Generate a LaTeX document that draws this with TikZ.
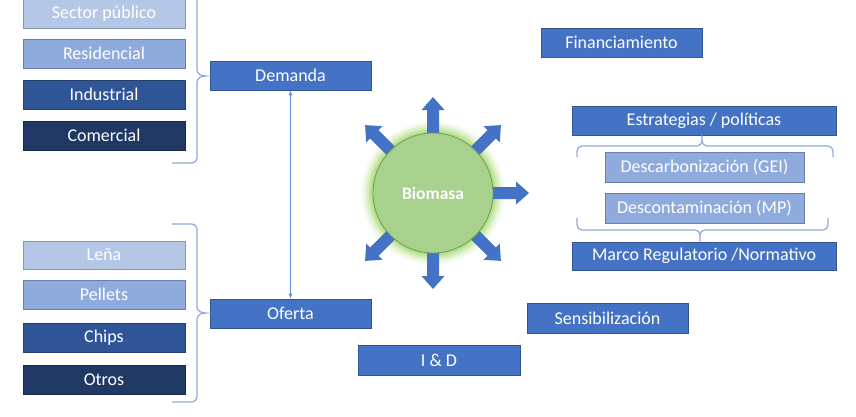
\documentclass[tikz,border=0pt]{standalone}
\usepackage{fontspec}
\setmainfont{Carlito}
\usetikzlibrary{arrows.meta}
\definecolor{mblue}{HTML}{4472C4}
\definecolor{lblueA}{HTML}{B4C7E7}
\definecolor{lblueB}{HTML}{8FAADC}
\definecolor{dblueA}{HTML}{2F5597}
\definecolor{dblueB}{HTML}{1F3864}
\definecolor{bracecol}{HTML}{8FAADC}
\definecolor{bioin}{HTML}{A9D18E}
\definecolor{bioedge}{HTML}{6E9E55}
\definecolor{glow}{HTML}{92D050}
\begin{document}
\begin{tikzpicture}[x=1pt,y=-1pt,
  box/.style={rectangle, draw=#1!75!black, line width=0.6pt, fill=#1, text=white,
    inner sep=0pt, minimum height=29pt, minimum width=161pt,
    font=\fontsize{18}{21}\selectfont},
  bracket/.style={draw=bracecol, line width=1.2pt},
  link/.style={draw=mblue!80, line width=0.8pt, {Latex[length=5pt,width=4pt]}-{Latex[length=5pt,width=4pt]}}
  ]
\useasboundingbox (0,0) rectangle (856,416);
% left column (demand)
\node[box=lblueA, minimum width=162pt] (sp) at (104,14) {Sector público};
\node[box=lblueB, minimum width=162pt] (res) at (104,53.5) {Residencial};
\node[box=dblueA, minimum width=162pt] (ind) at (104,94.5) {Industrial};
\node[box=dblueB, minimum width=162pt] (com) at (104,135.5) {Comercial};
\node[box=mblue] (dem) at (290.5,75.5) {Demanda};
% left column (supply)
\node[box=lblueA, minimum width=162pt, minimum height=28pt] (lena) at (104,255) {Leña};
\node[box=lblueB, minimum width=162pt] (pel) at (104,294.5) {Pellets};
\node[box=dblueA, minimum width=162pt] (chips) at (104,337.5) {Chips};
\node[box=dblueB, minimum width=162pt] (otros) at (104,379.5) {Otros};
\node[box=mblue] (of) at (290.5,313.5) {Oferta};
% braces
\draw[bracket] (172,-8) -- (192,-8) to[out=0,in=90] (197,-3) -- (197,70)
  to[out=-90,in=180] (206,76) to[out=180,in=90] (197,82) -- (197,158)
  to[out=-90,in=0] (192,163) -- (172,163);
\draw[bracket] (172,224) -- (192,224) to[out=0,in=90] (197,229) -- (197,307)
  to[out=-90,in=180] (206,313) to[out=180,in=90] (197,319) -- (197,397)
  to[out=-90,in=0] (192,402) -- (172,402);
\draw[link] (dem) -- (of);
% right side
\node[box=mblue] (fin) at (621.5,42.5) {Financiamiento};
\node[box=mblue, minimum width=264pt] (est) at (704,120.5) {Estrategias / políticas};
\node[box=lblueB, minimum width=199pt, minimum height=30pt] (gei) at (704.5,167) {Descarbonización (GEI)};
\node[box=lblueB, minimum width=199pt, minimum height=30pt] (mp) at (704.5,208) {Descontaminación (MP)};
\node[box=mblue, minimum width=264pt, minimum height=28pt] (marco) at (704,256) {Marco Regulatorio /Normativo};
\draw[bracket] (577,157) -- (577,151) to[out=90,in=180] (582,146) -- (697,146)
  to[out=0,in=-90] (702,141) -- (est.south -| 702,0) (702,141) to[out=-90,in=180] (707,146)
  -- (828,146) to[out=0,in=90] (833,151) -- (833,157);
\draw[bracket] (577,218) -- (577,225) to[out=-90,in=180] (582,230) -- (695,230)
  to[out=0,in=90] (700,235) -- (marco.north -| 700,0) (700,235) to[out=90,in=180] (705,230)
  -- (823,230) to[out=0,in=-90] (828,225) -- (828,218);
\node[box=mblue, minimum height=30pt] (sens) at (607.5,318) {Sensibilización};
\node[box=mblue, minimum width=162pt, minimum height=30pt] (id) at (439,360) {I \& D};
% biomasa
\foreach \r/\o in {72/0.06,70/0.09,68/0.13,66/0.18,64/0.25,62/0.35}
  \fill[glow, opacity=\o] (433,193) circle[radius=\r];
\foreach \a in {0,45,90,135,225,270,315}
  \fill[mblue, shift={(433,193)}, rotate=\a]
    (50,-6) -- (83,-6) -- (83,-11.5) -- (96,0) -- (83,11.5) -- (83,6) -- (50,6) -- cycle;
\node[circle, minimum size=120pt, inner sep=0pt, fill=bioin, draw=bioedge, line width=0.8pt,
  text=white, font=\fontsize{17.5}{20}\selectfont\bfseries] (bio) at (433,193) {Biomasa};
\end{tikzpicture}
\end{document}
